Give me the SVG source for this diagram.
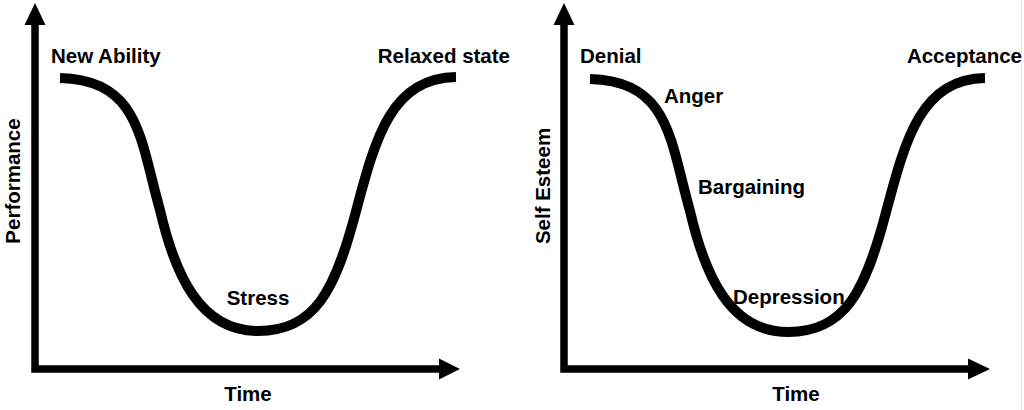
<svg xmlns="http://www.w3.org/2000/svg" width="1024" height="410" viewBox="0 0 1024 410">
<style>
.lbl{font-family:"Liberation Sans",Arial,sans-serif;font-weight:bold;font-size:20.5px;fill:#000}
.axis{fill:none;stroke:#000;stroke-width:7.5;stroke-linejoin:miter}
.curve{fill:none;stroke:#000;stroke-width:10;stroke-linecap:butt}
.head{fill:#000}
</style>
<rect width="1024" height="410" fill="#fff"/>
<line x1="1021.5" y1="0" x2="1021.5" y2="410" stroke="#e4e4e4" stroke-width="1"/>
<g id="connectors">
  <g id="left-axes">
    <polyline class="axis" points="35,22 35,369 442,369"/>
    <polygon class="head" points="35,3 24.5,25 45.5,25"/>
    <polygon class="head" points="460,369 439,358.5 439,379.5"/>
  </g>
  <g id="right-axes">
    <polyline class="axis" points="564,22 564,369 970,369"/>
    <polygon class="head" points="564,3 553.5,25 574.5,25"/>
    <polygon class="head" points="990,369 968,358.5 968,379.5"/>
  </g>
  <path id="left-curve" class="curve" d="M60,78 C140,80 140,140 160,210 C175,275 200,331 258,331 C315,331 335,290 355,215 C375,140 390,78 456,77"/>
  <path id="right-curve" class="curve" d="M590,79 C670,81 670,141 690,211 C705,276 730,332 788,332 C845,332 865,291 885,216 C905,141 920,79 985,78"/>
</g>
<g id="left-labels">
  <g id="n-new-ability"><text class="lbl" x="51" y="63">New Ability</text></g>
  <g id="n-relaxed"><text class="lbl" x="510" y="63" text-anchor="end">Relaxed state</text></g>
  <g id="n-stress"><text class="lbl" x="258" y="305" text-anchor="middle">Stress</text></g>
  <g id="n-performance"><text class="lbl" transform="translate(20,181) rotate(-90)" text-anchor="middle">Performance</text></g>
  <g id="n-time-left"><text class="lbl" x="248" y="401" text-anchor="middle">Time</text></g>
</g>
<g id="right-labels">
  <g id="n-denial"><text class="lbl" x="580" y="63">Denial</text></g>
  <g id="n-acceptance"><text class="lbl" x="1022" y="63" text-anchor="end">Acceptance</text></g>
  <g id="n-anger"><text class="lbl" x="664" y="103">Anger</text></g>
  <g id="n-bargaining"><text class="lbl" x="698" y="194">Bargaining</text></g>
  <g id="n-depression"><text class="lbl" x="733" y="304">Depression</text></g>
  <g id="n-self-esteem"><text class="lbl" transform="translate(550,186) rotate(-90)" text-anchor="middle">Self Esteem</text></g>
  <g id="n-time-right"><text class="lbl" x="796" y="401" text-anchor="middle">Time</text></g>
</g>
</svg>
